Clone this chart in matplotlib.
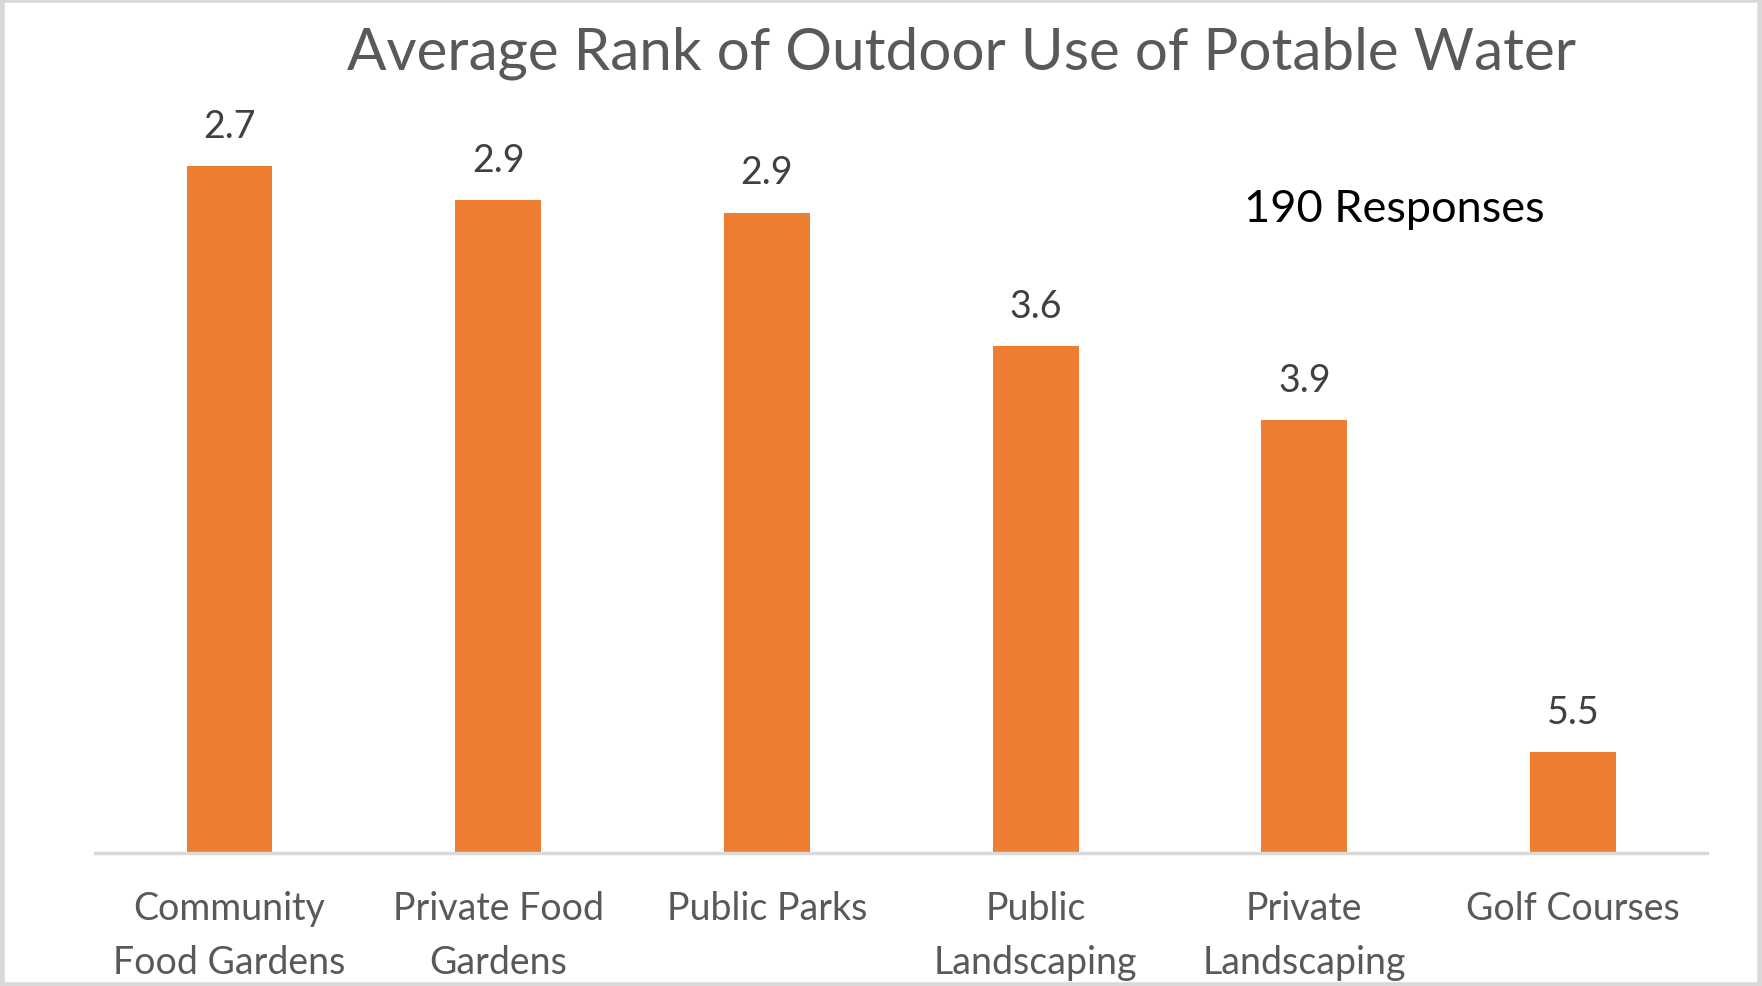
import numpy as np
import matplotlib.pyplot as plt
from matplotlib.patches import Rectangle

# dados (rank medio; menor = mais importante)
categorias = ["Community\nFood Gardens", "Private Food\nGardens", "Public Parks",
              "Public\nLandscaping", "Private\nLandscaping", "Golf Courses"]
rank_medio = [2.72, 2.88, 2.94, 3.58, 3.93, 5.52]
escala_max = 6.0   # barras desenhadas como (6 - rank)

plt.rcParams['font.family'] = ['Lato', 'DejaVu Sans']

fig = plt.figure(figsize=(17.62, 9.87), dpi=100)
ax = fig.add_axes([0.054, 0.1348, 0.915, 0.81])

x = np.arange(len(categorias))
alturas = [escala_max - r for r in rank_medio]
ax.bar(x, alturas, width=0.32, color='#ED7D31', zorder=2)

for xi, h, r in zip(x, alturas, rank_medio):
    ax.annotate(f"{r:.1f}", (xi, h), xytext=(0, 16), textcoords='offset points',
                ha='center', va='bottom', fontsize=27, color='#404040')

ax.set_xlim(-0.5, len(categorias) - 0.5)
ax.set_ylim(0, 3.82)
ax.set_yticks([])
ax.set_xticks(x)
ax.set_xticklabels(categorias, fontsize=27, color='#595959', linespacing=1.6)
ax.tick_params(axis='x', length=0, pad=27)
for s in ['top', 'right', 'left']:
    ax.spines[s].set_visible(False)
ax.spines['bottom'].set_color('#d9d9d9')
ax.spines['bottom'].set_linewidth(2.5)

fig.text(0.5455, 0.946, "Average Rank of Outdoor Use of Potable Water",
         ha='center', va='center', fontsize=42, color='#595959')
fig.text(0.7915, 0.788, "190 Responses", ha='center', va='center',
         fontsize=32.5, color='black')

# moldura cinza em volta da figura
fig.patches.append(Rectangle((0.001, 0.001), 0.998, 0.998, transform=fig.transFigure,
                             fill=False, edgecolor='#d9d9d9', linewidth=4))

plt.savefig('out.png', dpi=100)
